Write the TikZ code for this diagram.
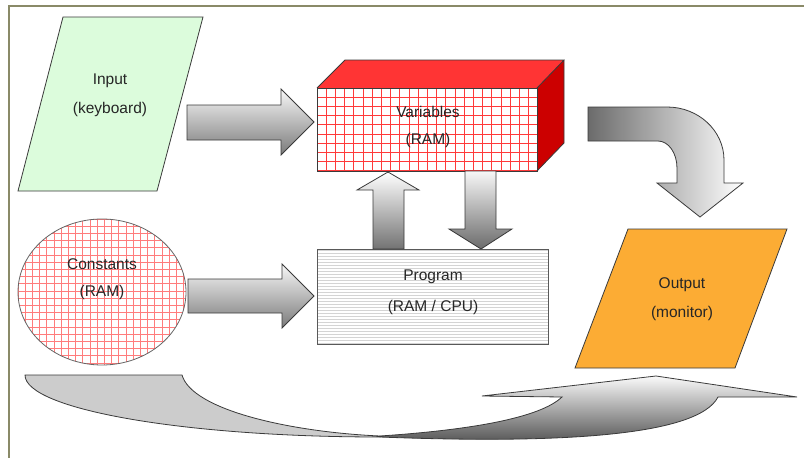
\documentclass[tikz,border=0pt]{standalone}
\usepackage{fontspec}
\setmainfont{Liberation Sans}
\definecolor{framecol}{HTML}{8A8A68}
\definecolor{edge}{HTML}{3A3A3A}
\definecolor{txt}{HTML}{262626}
\definecolor{inputgreen}{HTML}{DCFCDC}
\definecolor{outorange}{HTML}{FCAC34}
\definecolor{topred}{HTML}{FF3434}
\definecolor{sidered}{HTML}{CC0000}
\definecolor{gridred}{HTML}{FF3A3A}
\definecolor{gridpink}{HTML}{FF7C7C}
\definecolor{stripe}{HTML}{D4D4D4}
\definecolor{ribbon}{HTML}{CCCCCC}
\begin{document}
\begin{tikzpicture}[x=1pt,y=-1pt,
  txtstyle/.style={font=\fontsize{15.5}{18}\selectfont, text=txt, inner sep=0pt},
  outline/.style={draw=edge, line width=0.8pt, line join=miter},
  blockarrow/.style={outline, top color=white, bottom color=black!55},
  gridline/.style={line width=0.8pt}]
\useasboundingbox (0,0) rectangle (804,458);
\fill[white] (0,0) rectangle (804,458);

% page frame (top and left edges)
\draw[framecol, line width=2pt] (9,458) -- (9,6) -- (804,6);

% ---- Input (parallelogram)
\path[outline, fill=inputgreen] (63,17) -- (203,17) -- (157,191) -- (18,191) -- cycle;
\node[txtstyle] (inA) at (110,81) {Input};
\node[txtstyle] (inB) at (110,109) {(keyboard)};

% ---- Variables (3D red box)
\fill[topred] (317,88) -- (345,60) -- (564,60) -- (537,88) -- cycle;
\fill[sidered] (537,88) -- (564,60) -- (564,143) -- (537,171) -- cycle;
\fill[white] (317,88) rectangle (537,171);
\begin{scope}
  \clip (317,88) rectangle (537,171);
  \foreach \x in {317,326.2,...,540} \draw[gridline, gridred] (\x,88) -- (\x,171);
  \foreach \y in {88,97.2,...,172} \draw[gridline, gridred] (317,\y) -- (537,\y);
\end{scope}
\draw[outline] (317,88) rectangle (537,171);
\draw[outline] (317,88) -- (345,60) -- (564,60) -- (537,88)
               (564,60) -- (564,143) -- (537,171);
\node[txtstyle] (varA) at (428,112) {Variables};
\node[txtstyle] (varB) at (428,140) {(RAM)};

% ---- Constants (ellipse with pink grid)
\fill[white] (102,292) ellipse [x radius=84, y radius=73];
\begin{scope}
  \clip (102,292) ellipse [x radius=84, y radius=73];
  \foreach \x in {18,25.2,...,190} \draw[gridline, gridpink] (\x,219) -- (\x,366);
  \foreach \y in {219,226.2,...,366} \draw[gridline, gridpink] (18,\y) -- (186,\y);
\end{scope}
\draw[outline, draw=black!60] (102,292) ellipse [x radius=84, y radius=73];
\node[txtstyle] (conA) at (102,264) {Constants};
\node[txtstyle] (conB) at (102,292) {(RAM)};

% ---- Program (striped rectangle)
\fill[white] (317,249) rectangle (548,344);
\begin{scope}
  \clip (317,249) rectangle (548,344);
  \foreach \y in {250.5,253.5,...,345} \draw[stripe, line width=1.3pt] (317,\y) -- (548,\y);
\end{scope}
\draw[outline, draw=black!65] (317,249) rectangle (548,344);
\node[txtstyle] (prgA) at (433,277) {Program};
\node[txtstyle] (prgB) at (433,307) {(RAM / CPU)};

% ---- Output (orange parallelogram)
\path[outline, fill=outorange] (628,229) -- (787,229) -- (735,368) -- (575,368) -- cycle;
\node[txtstyle] (outA) at (682,285) {Output};
\node[txtstyle] (outB) at (682,313) {(monitor)};

% ---- block arrows
% Input -> Variables
\path[blockarrow, top color=black!3, bottom color=black!52]
  (187,105) -- (281,105) -- (281,89) -- (314,122) -- (281,155) -- (281,140) -- (187,140) -- cycle;
% Constants -> Program
\path[blockarrow, top color=black!3, bottom color=black!52]
  (188,279) -- (282,279) -- (282,264) -- (314,296) -- (282,328) -- (282,313) -- (188,313) -- cycle;
% Program -> Variables
\path[blockarrow, top color=white, bottom color=black!55]
  (373,249) -- (373,190) -- (357,190) -- (388,172) -- (419,190) -- (404,190) -- (404,249) -- cycle;
% Variables -> Program
\path[blockarrow, top color=black!3, bottom color=black!58]
  (465,171) -- (496,171) -- (496,229) -- (512,229) -- (481,249) -- (449,229) -- (465,229) -- cycle;
% Variables -> Output (bent arrow)
\path[outline, left color=black!58, right color=white]
  (588,107) -- (667,107) arc[start angle=-90, end angle=0, x radius=57, y radius=53]
  -- (724,183) -- (743,183) -- (700,217) -- (657,183) -- (677,183) -- (677,168)
  arc[start angle=0, end angle=-90, x radius=19, y radius=27] -- (588,141) -- cycle;

% ---- return ribbon along the bottom
\path[outline, fill=ribbon]
  (25,375) -- (182,375) .. controls (192,410) and (290,432) .. (380,436)
  -- (380,437) arc[start angle=90, end angle=180, x radius=355, y radius=62] -- cycle;
\path[outline, top color=black!2, bottom color=black!68]
  (380,436) .. controls (470,430) and (540,418) .. (562,397)
  -- (482,396) -- (656,376) -- (797,397) -- (718,397)
  .. controls (698,436) and (560,444) .. (380,437) -- cycle;
\end{tikzpicture}
\end{document}
